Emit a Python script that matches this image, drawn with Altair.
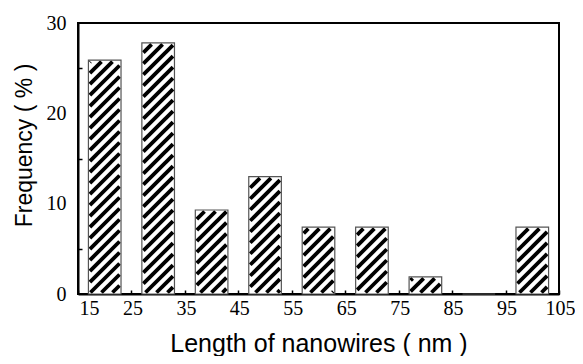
import math
import altair as alt
import pandas as pd

# ---- data ----
length_centers = [20, 30, 40, 50, 60, 70, 80, 90, 100]
frequency = [25.9, 27.8, 9.3, 13.0, 7.4, 7.4, 1.9, 0.0, 7.4]
x_tick_values = [15, 25, 35, 45, 55, 65, 75, 85, 95, 105]
y_label_values = [0, 10, 20, 30]
y_minor_values = [5, 15, 25]

x_title = "Length of nanowires ( nm )"
y_title = "Frequency ( % )"

# ---- layout ----
W, H = 481, 271
X_MIN, X_MAX = 15, 105
Y_MIN, Y_MAX = 0, 30
HALF = 3.05          # half bar width in data units
PERIOD = 11.0        # hatch period in px
INSET = 1.5          # hatch inset in px
HATCH_W = 3.8

sx = W / (X_MAX - X_MIN)
sy = H / (Y_MAX - Y_MIN)

bars = pd.DataFrame({
    "center": length_centers,
    "freq": frequency,
})
bars["lo"] = bars["center"] - HALF
bars["hi"] = bars["center"] + HALF
bars["zero"] = 0.0

# hatch segments derived from the bars (45 degree lines, clipped to each bar)
segs = []
for c, f in zip(length_centers, frequency):
    if f <= 0:
        continue
    px0 = (c - HALF - X_MIN) * sx + INSET
    px1 = (c + HALF - X_MIN) * sx - INSET
    py0 = INSET
    ph = f * sy - INSET
    kmin = math.floor((px0 - ph) / PERIOD) - 1
    kmax = math.ceil((px1 - py0) / PERIOD) + 1
    for k in range(kmin, kmax + 1):
        b = k * PERIOD
        xs = max(px0, b + py0)
        xe = min(px1, b + ph)
        if xe - xs > 0.4:
            segs.append({
                "x": X_MIN + xs / sx, "x2": X_MIN + xe / sx,
                "y": (xs - b) / sy, "y2": (xe - b) / sy,
            })
hatch = pd.DataFrame(segs)

xscale = alt.Scale(domain=[X_MIN, X_MAX], nice=False, zero=False)
yscale = alt.Scale(domain=[Y_MIN, Y_MAX], nice=False, zero=False)

SERIF = "Liberation Serif"
SANS = "Liberation Sans"

fill_layer = alt.Chart(bars).mark_rect(fill="white", strokeWidth=0).encode(
    x=alt.X("lo:Q", scale=xscale, axis=alt.Axis(
        values=x_tick_values, ticks=False, tickSize=0,
        domainColor="black", domainWidth=2, grid=False,
        labelFont=SERIF, labelFontSize=20, labelColor="black",
        labelPadding=4, labelFlush=False, labelOffset=1,
        labelAlign={"condition": {"test": "datum.value == 15", "value": "left"}, "value": "center"},
        title=x_title, titleFont=SANS, titleFontSize=25,
        titleFontWeight="normal", titleColor="black",
        titleBaseline="alphabetic", titleY=57,
    )),
    x2="hi:Q",
    y=alt.Y("freq:Q", scale=yscale, axis=alt.Axis(
        values=y_label_values, ticks=False, tickSize=0,
        domainColor="black", domainWidth=2, grid=False,
        labelFont=SERIF, labelFontSize=20, labelColor="black",
        labelPadding=12,
        title=y_title, titleFont=SANS, titleFontSize=23,
        titleFontWeight="normal", titleColor="black",
        titleX=-42, titleY=122,
    )),
    y2="zero:Q",
)

hatch_layer = alt.Chart(hatch).mark_rule(color="black", strokeWidth=HATCH_W, strokeCap="butt").encode(
    x=alt.X("x:Q", scale=xscale, axis=alt.Axis(
        orient="top", offset=-H, values=x_tick_values, labels=False, domain=False,
        ticks=True, tickSize=4, tickWidth=1.5, tickColor="black", grid=False, title=None,
    )),
    x2="x2:Q",
    y=alt.Y("y:Q", scale=yscale, axis=alt.Axis(
        orient="right", offset=-W, values=y_minor_values, labels=False, domain=False,
        ticks=True, tickSize=4, tickWidth=1.5, tickColor="black", grid=False, title=None,
    )),
    y2="y2:Q",
)

outline_layer = alt.Chart(bars).mark_rect(fill=None, fillOpacity=0, stroke="#555555", strokeWidth=1.2).encode(
    x=alt.X("lo:Q", scale=xscale, axis=None),
    x2="hi:Q",
    y=alt.Y("freq:Q", scale=yscale, axis=None),
    y2="zero:Q",
)

chart = alt.layer(fill_layer, hatch_layer, outline_layer).resolve_axis(
    x="independent", y="independent"
).properties(
    width=W, height=H,
    autosize=alt.AutoSizeParams(type="none"),
    padding={"left": 70, "top": 15, "right": 16, "bottom": 62},
    background="white",
).configure_view(stroke="black", strokeWidth=2)

chart.save("out.html", embed_options={"renderer": "svg", "actions": False})
